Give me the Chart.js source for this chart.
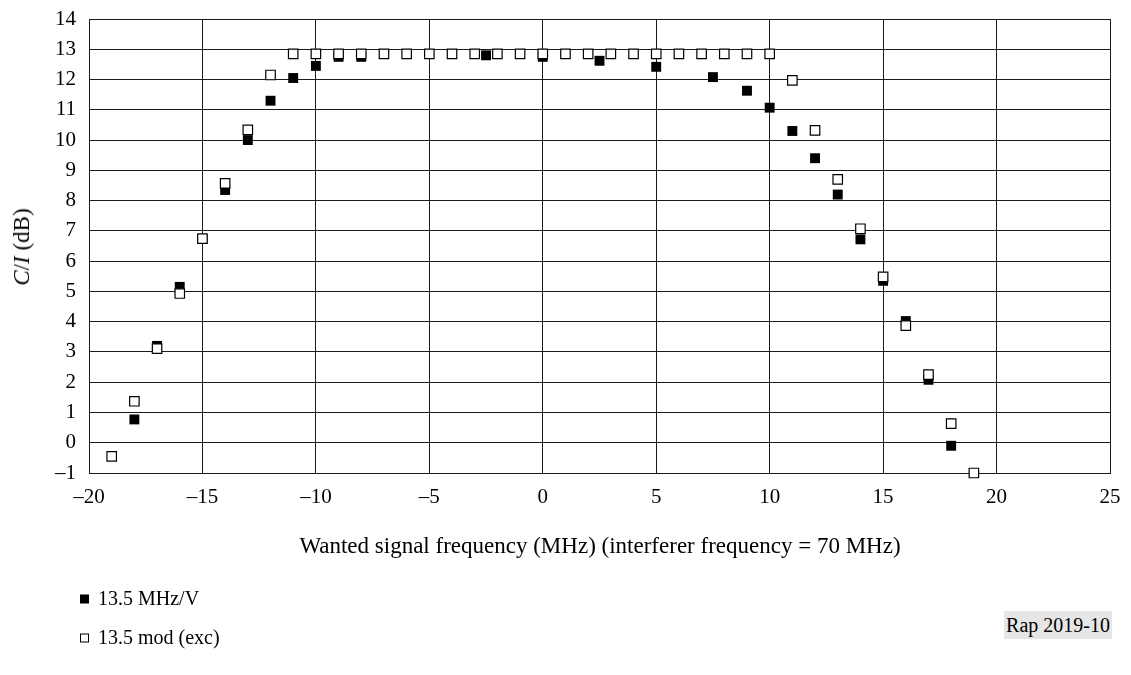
<!DOCTYPE html>
<html>
<head>
<meta charset="utf-8">
<script src="https://cdn.jsdelivr.net/npm/chart.js@4"></script>
<style>
  body { margin: 0; background: #fff; }
  #wrap { position: relative; width: 1131px; height: 675px; font-family: 'Liberation Serif', 'Times New Roman', serif; color: #000; }
  #ciChart { position: absolute; left: 0; top: 0; }
  .ytitle { position: absolute; left: 22px; top: 247px; transform: translate(-50%, -50%) rotate(-90deg); font-size: 23px; white-space: nowrap; }
  .xtitle { position: absolute; left: 600px; top: 546px; transform: translate(-50%, -50%); font-size: 23px; white-space: nowrap; }
  .legend { position: absolute; left: 80px; font-size: 20px; white-space: nowrap; transform: translateY(-50%); }
  .legend span.box { display: inline-block; width: 9px; height: 9px; margin-right: 9px; vertical-align: 1px; box-sizing: border-box; }
  .rap { position: absolute; left: 1004px; top: 611px; width: 108px; height: 28px; background: #e6e6e6; font-size: 20px; line-height: 28px; text-align: center; }
</style>
</head>
<body>
<div id="wrap">
  <canvas id="ciChart" width="1131" height="675"></canvas>
  <div class="ytitle"><i>C</i>/<i>I</i> (dB)</div>
  <div class="xtitle">Wanted signal frequency (MHz) (interferer frequency = 70 MHz)</div>
  <div class="legend" style="top:598px"><span class="box" style="background:#000"></span>13.5 MHz/V</div>
  <div class="legend" style="top:637px"><span class="box" style="border:1px solid #000;background:#fff"></span>13.5 mod (exc)</div>
  <div class="rap">Rap 2019-10</div>
</div>
<script>
// 13.5 MHz/V (filled squares)
const freqV = [-18, -17, -16, -15, -14, -13, -12, -11, -10, -9, -8, -2.5, 0, 2.5, 5, 7.5, 9, 10, 11, 12, 13, 14, 15, 16, 17, 18];
const ciV   = [0.77, 3.2, 5.15, 6.75, 8.35, 10.0, 11.3, 12.05, 12.45, 12.75, 12.75, 12.8, 12.75, 12.62, 12.42, 12.08, 11.63, 11.07, 10.3, 9.4, 8.2, 6.72, 5.35, 4.02, 2.08, -0.1];

// 13.5 mod (exc) (open squares)
const freqMod = [-19, -18, -17, -16, -15, -14, -13, -12, -11, -10, -9, -8, -7, -6, -5, -4, -3, -2, -1, 0, 1, 2, 3, 4, 5, 6, 7, 8, 9, 10, 11, 12, 13, 14, 15, 16, 17, 18, 19];
const ciMod   = [-0.45, 1.37, 3.11, 4.93, 6.74, 8.57, 10.34, 12.15, 12.85, 12.85, 12.85, 12.85, 12.85, 12.85, 12.85, 12.85, 12.85, 12.85, 12.85, 12.85, 12.85, 12.85, 12.85, 12.85, 12.85, 12.85, 12.85, 12.85, 12.85, 12.85, 11.97, 10.32, 8.7, 7.07, 5.48, 3.87, 2.25, 0.63, -1.0];

const xTicks = [-20, -15, -10, -5, 0, 5, 10, 15, 20, 25];
const yTicks = [-1, 0, 1, 2, 3, 4, 5, 6, 7, 8, 9, 10, 11, 12, 13, 14];

const toPts = (xs, ys) => xs.map((x, i) => ({ x: x, y: ys[i] }));
const dash = v => String(v).replace('-', '\u2013');

const gridColor = '#1a1a1a';
const tickFont = { family: 'Liberation Serif', size: 21 };

// invisible tick marks give the label gap without growing the scale padding
new Chart(document.getElementById('ciChart'), {
    type: 'scatter',
    data: {
        datasets: [
            {
                label: '13.5 mod (exc)',
                data: toPts(freqMod, ciMod),
                pointStyle: 'rect',
                pointRadius: 6.7,
                backgroundColor: '#fff',
                borderColor: '#000',
                borderWidth: 1.2,
                order: 0,
                clip: false
            },
            {
                label: '13.5 MHz/V',
                data: toPts(freqV, ciV),
                pointStyle: 'rect',
                pointRadius: 7,
                backgroundColor: '#000',
                borderColor: '#000',
                borderWidth: 0,
                order: 1,
                clip: false
            }
        ]
    },
    options: {
        responsive: false,
        animation: false,
        events: [],
        layout: { padding: { left: 0, top: 19, right: 21, bottom: 160 } },
        plugins: {
            legend: { display: false },
            tooltip: { enabled: false }
        },
        scales: {
            x: {
                type: 'linear',
                min: -20, max: 25,
                afterBuildTicks: s => { s.ticks = xTicks.map(v => ({ value: v })); },
                afterFit: s => { s.height = 42; },
                grid: { color: gridColor, lineWidth: 1, drawTicks: true, tickLength: 12, tickColor: 'rgba(0,0,0,0)' },
                border: { color: gridColor, width: 1 },
                ticks: { color: '#000', font: tickFont, padding: 0, maxRotation: 0, callback: v => dash(v) }
            },
            y: {
                type: 'linear',
                min: -1, max: 14,
                afterBuildTicks: s => { s.ticks = yTicks.map(v => ({ value: v })); },
                afterFit: s => { s.width = 89; },
                grid: { color: gridColor, lineWidth: 1, drawTicks: true, tickLength: 13, tickColor: 'rgba(0,0,0,0)' },
                border: { color: gridColor, width: 1 },
                ticks: { color: '#000', font: tickFont, padding: 0, callback: v => dash(v) }
            }
        }
    }
});
</script>
</body>
</html>
